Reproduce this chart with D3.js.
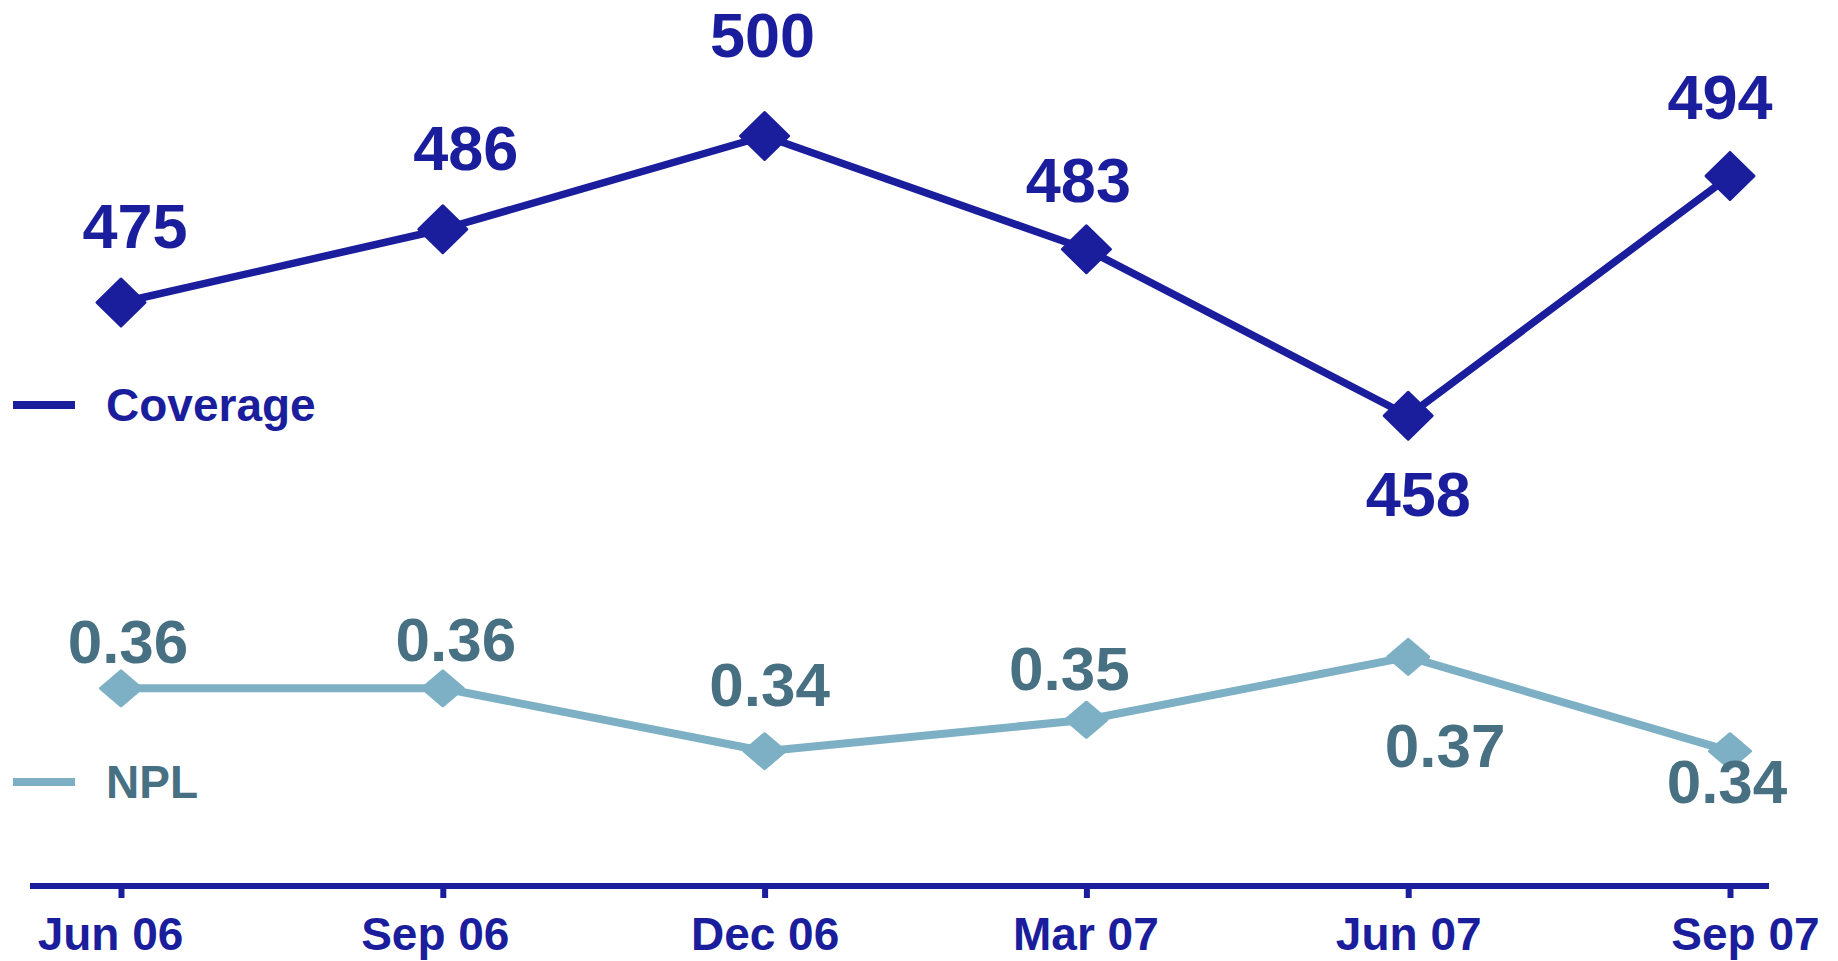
<!DOCTYPE html>
<html>
<head>
<meta charset="utf-8">
<script src="https://cdn.jsdelivr.net/npm/d3@7"></script>
<style>
  html, body { margin: 0; padding: 0; background: #fff; }
  svg { display: block; font-family: "Liberation Sans", Arial, sans-serif; font-weight: bold; }
</style>
</head>
<body>
<svg id="chart" width="1838" height="961"></svg>
<script>
// data
const periods = ["Jun 06", "Sep 06", "Dec 06", "Mar 07", "Jun 07", "Sep 07"];
const coverage = [475, 486, 500, 483, 458, 494];
const npl = [0.36, 0.36, 0.34, 0.35, 0.37, 0.34];

// label nudges (layout only)
const covLabelDx = [14, 23, -2, -8, 10, -10];
const covLabelDy = [-55, -59, -79, -47, 100, -57];
const nplLabelDx = [7, 13, 5, -17, 37, -3];
const nplLabelDy = [-25, -27, -45, -30, 110, 52];
const tickLabelDx = [-11, -8, 0, -1, 0, 15];

const blue = "#1a1d9c";
const nplLine = "#7db0c4";
const nplText = "#487083";

const svg = d3.select("#chart");

const x = d3.scalePoint().domain(periods).range([121, 1730]);
const yCov = d3.scaleLinear().domain([450, 500]).range([469, 136]);
const yNpl = d3.scaleLinear().domain([0.30, 0.40]).range([877, 562.5]);
const axisY = 886;

function diamond(w, h) {
    return `M0,${-h}L${w},0L0,${h}L${-w},0Z`;
}

function drawSeries(values, yScale, opts) {
    const line = d3.line()
        .x((d, i) => x(periods[i]))
        .y(d => yScale(d));
    svg.append("path")
        .datum(values)
        .attr("d", line)
        .attr("fill", "none")
        .attr("stroke", opts.lineColor)
        .attr("stroke-width", opts.lineWidth)
        .attr("stroke-linejoin", "round");

    svg.selectAll(null)
        .data(values)
        .enter()
        .append("path")
        .attr("transform", (d, i) => `translate(${x(periods[i])},${yScale(d)})`)
        .attr("d", diamond(opts.mw, opts.mh))
        .attr("fill", opts.lineColor)
        .attr("stroke", opts.lineColor)
        .attr("stroke-width", 3)
        .attr("stroke-linejoin", "round");

    svg.selectAll(null)
        .data(values)
        .enter()
        .append("text")
        .attr("x", (d, i) => x(periods[i]) + opts.dx[i])
        .attr("y", (d, i) => yScale(d) + opts.dy[i])
        .attr("text-anchor", "middle")
        .attr("font-size", opts.fontSize)
        .attr("fill", opts.textColor)
        .text(d => opts.format(d));
}

drawSeries(npl, yNpl, {
    lineColor: nplLine, textColor: nplText, lineWidth: 8,
    mw: 20.5, mh: 17.5, fontSize: 62,
    dx: nplLabelDx, dy: nplLabelDy, format: d3.format(".2f")
});

drawSeries(coverage, yCov, {
    lineColor: blue, textColor: blue, lineWidth: 7.5,
    mw: 24, mh: 23.5, fontSize: 63,
    dx: covLabelDx, dy: covLabelDy, format: d3.format("d")
});

// x axis
const axis = d3.axisBottom(x).tickSize(12).tickPadding(19);
const gAxis = svg.append("g")
    .attr("transform", `translate(0,${axisY})`)
    .call(axis);
gAxis.select(".domain").remove();
gAxis.selectAll(".tick line")
    .attr("stroke", blue)
    .attr("stroke-width", 6);
gAxis.selectAll(".tick text")
    .attr("fill", blue)
    .attr("font-size", 46)
    .attr("font-family", "Liberation Sans, Arial, sans-serif")
    .attr("font-weight", "bold")
    .attr("x", (d, i) => tickLabelDx[i]);
svg.append("line")
    .attr("x1", x(periods[0]) - 91)
    .attr("x2", x(periods[periods.length - 1]) + 39)
    .attr("y1", axisY)
    .attr("y2", axisY)
    .attr("stroke", blue)
    .attr("stroke-width", 6);

// legend
const legend = [
    { name: "Coverage", color: blue, text: blue, y: 405 },
    { name: "NPL", color: nplLine, text: nplText, y: 782 }
];
const lg = svg.selectAll(".legend")
    .data(legend)
    .enter()
    .append("g")
    .attr("class", "legend")
    .attr("transform", d => `translate(0,${d.y})`);
lg.append("line")
    .attr("x1", 13).attr("x2", 75)
    .attr("stroke", d => d.color)
    .attr("stroke-width", 8);
lg.append("text")
    .attr("x", 106)
    .attr("y", 16)
    .attr("font-size", 46)
    .attr("fill", d => d.text)
    .text(d => d.name);
</script>
</body>
</html>
